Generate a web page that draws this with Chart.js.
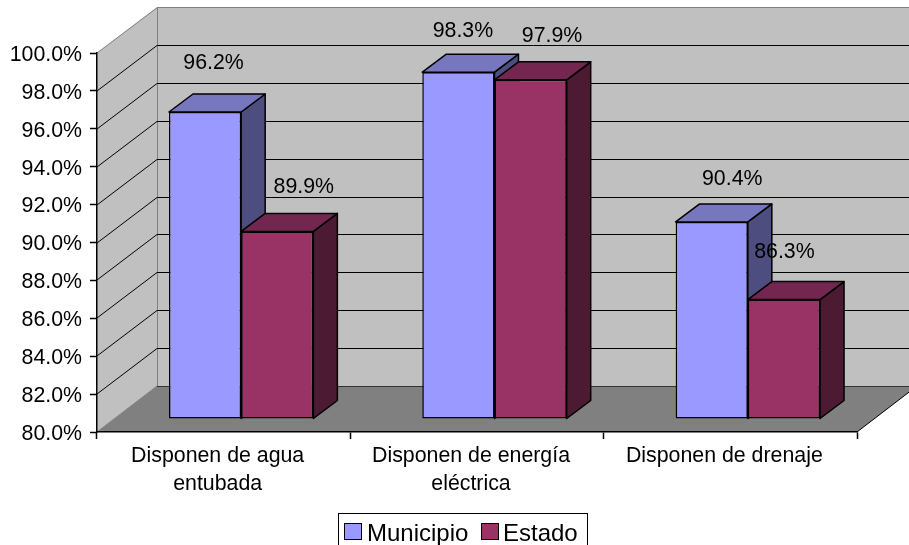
<!DOCTYPE html>
<html>
<head>
<meta charset="utf-8">
<style>html,body{margin:0;padding:0;background:#fff}canvas{display:block}</style>
<script src="https://cdn.jsdelivr.net/npm/chart.js@4/dist/chart.umd.min.js"></script>
</head>
<body>
<canvas id="c" width="909" height="545"></canvas>
<script>
const categories = [['Disponen de agua','entubada'],['Disponen de energía','eléctrica'],['Disponen de drenaje']];
const municipio = [96.2, 98.3, 90.4];
const estado = [89.9, 97.9, 86.3];
const seriesNames = ['Municipio', 'Estado'];

const FONT = 'Arial, "Liberation Sans", sans-serif';
const WALL = {dx: 60, dy: -46};
const BAR_SHIFT = {dx: 17.5, dy: -13};
const BAR_DEPTH = {dx: 24, dy: -18};
const LABEL_NUDGE = [[[8.5,-49],[4.5,-41],[20.5,-43]],[[26.5,-44],[21.5,-44],[0.5,-47]]];
const FACES = [{top:'#7777C0', side:'#4D4D80'},{top:'#732650', side:'#4D1A33'}];

function poly(ctx, pts, fill, stroke){
  ctx.beginPath();
  pts.forEach((p,i)=> i?ctx.lineTo(p[0],p[1]):ctx.moveTo(p[0],p[1]));
  ctx.closePath();
  if(fill){ctx.fillStyle=fill;ctx.fill();}
  if(stroke){ctx.strokeStyle=stroke;ctx.lineWidth=1.5;ctx.stroke();}
}
function seg(ctx,x1,y1,x2,y2,c){ctx.beginPath();ctx.moveTo(x1,y1);ctx.lineTo(x2,y2);ctx.strokeStyle=c;ctx.lineWidth=1;ctx.stroke();}

const scene3d = {
  id:'scene3d',
  beforeDraw(chart){
    const {ctx, chartArea:a, scales:{y}} = chart;
    const d = WALL;
    ctx.save();
    poly(ctx,[[a.left,a.top],[a.left+d.dx,a.top+d.dy],[a.left+d.dx,a.bottom+d.dy],[a.left,a.bottom]],'#C0C0C0');
    poly(ctx,[[a.left+d.dx,a.top+d.dy],[a.right+d.dx,a.top+d.dy],[a.right+d.dx,a.bottom+d.dy],[a.left+d.dx,a.bottom+d.dy]],'#C0C0C0');
    seg(ctx,a.left,a.top,a.left+d.dx+.5,a.top+d.dy+.5,'#808080');
    seg(ctx,a.left+d.dx+.5,a.top+d.dy+.5,a.right+d.dx,a.top+d.dy+.5,'#808080');
    seg(ctx,a.left+d.dx+.5,a.top+d.dy,a.left+d.dx+.5,a.bottom+d.dy,'#808080');
    y.ticks.forEach(t=>{
      if(t.value===y.min||t.value===y.max) return;
      const py=Math.round(y.getPixelForValue(t.value));
      seg(ctx,a.left,py,a.left+d.dx,py+d.dy+.5,'#000');
      seg(ctx,a.left+d.dx,py+d.dy+.5,a.right+d.dx,py+d.dy+.5,'#000');
    });
    poly(ctx,[[a.left,a.bottom],[a.left+d.dx,a.bottom+d.dy],[a.right+d.dx,a.bottom+d.dy],[a.right,a.bottom]],'#808080');
    seg(ctx,a.left,a.bottom,a.left+d.dx,a.bottom+d.dy,'#808080');
    seg(ctx,a.left+d.dx,a.bottom+d.dy+.5,a.right+d.dx,a.bottom+d.dy+.5,'#333');
    seg(ctx,a.right,a.bottom,a.right+d.dx,a.bottom+d.dy,'#000');
    ctx.restore();
  },
  beforeDatasetDraw(){ return false; },
  afterDatasetsDraw(chart){
    const ctx = chart.ctx;
    chart.data.datasets.forEach((ds,i)=>{
      const meta = chart.getDatasetMeta(i);
      ctx.save();
      ctx.translate(BAR_SHIFT.dx, BAR_SHIFT.dy);
      ctx.lineJoin='round';
      meta.data.forEach(el=>{
        const {x,y,width,base} = el.getProps(['x','y','width','base'],true);
        const l=x-width/2, r=x+width/2, b=BAR_DEPTH;
        poly(ctx,[[r,y],[r+b.dx,y+b.dy],[r+b.dx,base+b.dy],[r,base]],FACES[i].side,'#000');
        poly(ctx,[[l,y],[l+b.dx,y+b.dy],[r+b.dx,y+b.dy],[r,y]],FACES[i].top,'#000');
      });
      meta.controller.draw();
      ctx.restore();
    });
    ctx.save();
    ctx.font='21.33px '+FONT;
    ctx.fillStyle='#000';
    ctx.textAlign='center';
    ctx.textBaseline='middle';
    chart.data.datasets.forEach((ds,i)=>{
      chart.getDatasetMeta(i).data.forEach((el,j)=>{
        const n=LABEL_NUDGE[i][j];
        ctx.fillText(ds.data[j].toFixed(1)+'%', el.x+BAR_SHIFT.dx+n[0], el.y+BAR_SHIFT.dy+n[1]);
      });
    });
    ctx.restore();
  },
  afterDraw(chart){
    const ctx=chart.ctx;
    ctx.save();
    ctx.strokeStyle='#000';ctx.lineWidth=1;
    ctx.strokeRect(338.5,513.5,249,40);
    ctx.font='24px '+FONT;
    ctx.textBaseline='middle';
    ctx.textAlign='left';
    const items=[{box:344,text:367},{box:481,text:503}];
    chart.data.datasets.forEach((ds,i)=>{
      ctx.fillStyle=ds.backgroundColor;
      ctx.fillRect(items[i].box+.5,523.5,17,16);
      ctx.strokeStyle='#000';
      ctx.strokeRect(items[i].box+.5,523.5,17,16);
      ctx.fillStyle='#000';
      ctx.fillText(ds.label,items[i].text,534);
    });
    ctx.restore();
  }
};

new Chart(document.getElementById('c'),{
  type:'bar',
  data:{
    labels:categories,
    datasets:[
      {label:seriesNames[0],data:municipio,base:80,backgroundColor:'#9999FF',borderColor:'#000',borderWidth:1.5,borderSkipped:false,clip:false},
      {label:seriesNames[1],data:estado,base:80,backgroundColor:'#993366',borderColor:'#000',borderWidth:1.5,borderSkipped:false,clip:false}
    ]
  },
  options:{
    responsive:false,
    animation:false,
    events:[],
    layout:{padding:{left:0,right:52,top:53,bottom:0}},
    datasets:{bar:{categoryPercentage:0.57,barPercentage:1}},
    plugins:{legend:{display:false},title:{display:false},tooltip:{enabled:false}},
    scales:{
      x:{
        afterFit(s){s.height=113;},
        border:{color:'#000',width:1.5},
        grid:{drawOnChartArea:false,tickLength:7,color:'#000',tickWidth:1.5},
        ticks:{color:'#000',font:{family:FONT,size:21.33,lineHeight:1.27},padding:4,labelOffset:-6,minRotation:0,maxRotation:0,autoSkip:false}
      },
      y:{
        min:80,max:100,
        afterFit(s){s.width=97;},
        border:{color:'#000',width:1.5},
        grid:{drawOnChartArea:false,tickLength:7,color:'#000',tickWidth:1.5},
        ticks:{stepSize:2,color:'#000',font:{family:FONT,size:21.33},padding:8,labelOffset:2,callback:v=>v.toFixed(1)+'%'}
      }
    }
  },
  plugins:[scene3d]
});
</script>
</body>
</html>
